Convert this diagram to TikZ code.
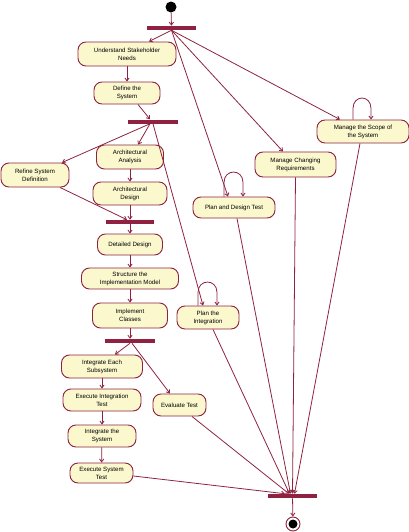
\documentclass[tikz,border=0pt]{standalone}
\usepackage{fontspec}
\setmainfont{Liberation Sans}
\usetikzlibrary{arrows.meta,calc}
\definecolor{rose}{RGB}{142,34,64}
\definecolor{cream}{RGB}{251,248,206}
\begin{document}
\begin{tikzpicture}[x=0.75pt,y=-0.75pt,
  act/.style 2 args={draw=rose, fill=cream, line width=0.7pt, rounded corners=6pt, align=center,
    inner sep=0pt, minimum width={#1*0.75pt}, minimum height={#2*0.75pt},
    font=\fontsize{4.6}{6}\selectfont},
  bar/.style={fill=rose, draw=none, inner sep=0pt, minimum width={#1*0.75pt}, minimum height={4*0.75pt}},
  conn/.style={draw=rose, line width=0.6pt},
  arr/.style={conn, -{Straight Barb[length=2.2pt,width=3.2pt]}}]
\useasboundingbox (0,0) rectangle (409,532);
% start / end
\node[circle, fill=black, inner sep=0pt, minimum size={11*0.75pt}] (st) at (171,7) {};
\node[circle, draw=rose, fill=white, line width=0.7pt, inner sep=0pt, minimum size={14*0.75pt}] (fin) at (293,524) {};
\node[circle, fill=black, inner sep=0pt, minimum size={9*0.75pt}] (fin2) at (293,524) {};
% bars
\node[bar=49] (f1) at (171.5,28) {};
\node[bar=50] (f2) at (153,121.5) {};
\node[bar=48] (f3) at (130,222) {};
\node[bar=50] (f4) at (130,341) {};
\node[bar=49] (f5) at (292.5,496) {};
% activities
\node[act={98}{24}] (usn) at (127,54) {Understand Stakeholder\\Needs};
\node[act={66}{22}] (def) at (127,93) {Define the\\System};
\node[act={67}{24}] (aa) at (130,157) {Architectural\\Analysis};
\node[act={68}{24}] (rsd) at (35,175) {Refine System\\Definition};
\node[act={74}{23}] (ad) at (130,193.5) {Architectural\\Design};
\node[act={65}{21}] (dd) at (130,244.5) {Detailed Design};
\node[act={97}{21}] (sim) at (130,278.5) {Structure the\\Implementation Model};
\node[act={75}{25}] (ic) at (130,315.5) {Implement\\Classes};
\node[act={62}{23}] (pi) at (208,317.5) {Plan the\\Integration};
\node[act={81}{23}] (ies) at (102,366.5) {Integrate Each\\Subsystem};
\node[act={78}{22}] (eit) at (102,400) {Execute Integration\\Test};
\node[act={68}{22}] (its) at (102,436) {Integrate the\\System};
\node[act={63}{20}] (est) at (101.5,473) {Execute System\\Test};
\node[act={53}{22}] (et) at (179.5,405) {Evaluate Test};
\node[act={92}{23}] (mss) at (363,131.5) {Manage the Scope of\\the System};
\node[act={81}{25}] (mcr) at (295.5,164.5) {Manage Changing\\Requirements};
\node[act={82}{21}] (pdt) at (234,207.5) {Plan and Design Test};
% connectors
\draw[arr] (st) -- (f1);
\draw[arr] (f1.south) -- ($(usn.north)+(22,0)$);
\draw[arr] (f1.south) -- ($(pdt.north)+(-6,0)$);
\draw[arr] (f1.south) -- ($(mcr.north)+(-12.5,0)$);
\draw[arr] (f1.south) -- ($(mss.north)+(-23,0)$);
\draw[arr] (usn) -- (def);
\draw[arr] ($(def.south)+(11,0)$) -- ($(f2.north)+(-3,0)$);
\draw[arr] ($(f2.south)+(-3,0)$) -- ($(rsd.north)+(27,0)$);
\draw[arr] ($(f2.south)+(-3,0)$) -- ($(aa.north)+(8,0)$);
\draw[arr] (f2.south) -- ($(pi.north)+(-5,0)$);
\draw[arr] (aa) -- (ad);
\draw[arr] (ad) -- (f3);
\draw[arr] ($(rsd.south)+(25,0)$) -- ($(f3.north)+(-3,0)$);
\draw[arr] (f3) -- (dd);
\draw[arr] (dd) -- (sim);
\draw[arr] (sim) -- (ic);
\draw[arr] (ic) -- (f4);
\draw[arr] (f4.south) -- ($(ies.north)+(13,0)$);
\draw[arr] ($(f4.south)+(2,0)$) -- ($(et.north)+(-9.5,0)$);
\draw[arr] (ies) -- (eit);
\draw[arr] (eit) -- (its);
\draw[arr] (its) -- (est);
\draw[arr] ($(est.east)+(0,3)$) -- ($(f5.north)+(-7.5,0)$);
\draw[arr] ($(et.south)+(12.5,0)$) -- ($(f5.north)+(-3.5,0)$);
\draw[arr] ($(pi.south)+(5,0)$) -- ($(f5.north)+(-3,0)$);
\draw[arr] ($(pdt.south)+(3,0)$) -- ($(f5.north)+(-2,0)$);
\draw[arr] (mcr.south) -- ($(f5.north)+(0,0)$);
\draw[arr] ($(mss.south)+(-3,0)$) -- ($(f5.north)+(2,0)$);
\draw[arr] (f5) -- (fin);
% self loops
\draw[arr] ($(pdt.north)+(-10,0)$) -- ++(0,-14) .. controls +(0,-14) and +(0,-14) .. ++(19,0) -- ++(0,14);
\draw[arr] ($(mss.north)+(-10,0)$) -- ++(0,-11) .. controls +(0,-14) and +(0,-14) .. ++(18,0) -- ++(0,11);
\draw[arr] ($(pi.north)+(-10,0)$) -- ++(0,-13) .. controls +(0,-14) and +(0,-14) .. ++(19,0) -- ++(0,13);
\end{tikzpicture}
\end{document}
